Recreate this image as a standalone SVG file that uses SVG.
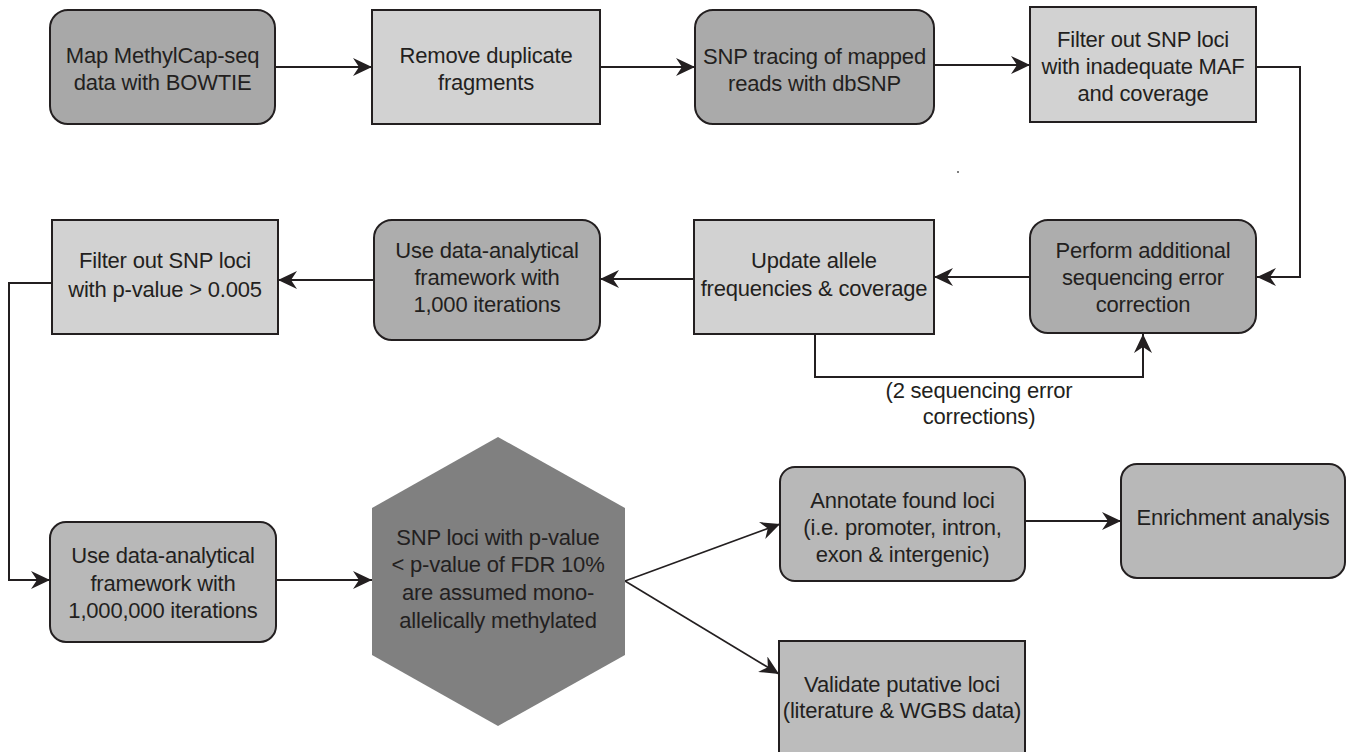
<svg xmlns="http://www.w3.org/2000/svg" width="1347" height="752" viewBox="0 0 1347 752">
<style>
  .box { stroke: #231f20; stroke-width: 2; }
  .lt { fill: #d2d2d2; }
  .md { fill: #b8b8b8; }
  text { font-family: "Liberation Sans", Arial, sans-serif; font-size: 22px; fill: #231f20; text-anchor: middle; letter-spacing: -0.2px; }
  .conn { fill: none; stroke: #231f20; stroke-width: 2; }
  .thin { fill: none; stroke: #231f20; stroke-width: 1.6; }
</style>
<defs>
  <marker id="ah" markerUnits="userSpaceOnUse" markerWidth="20" markerHeight="18" viewBox="0 0 20 18" refX="19" refY="9" orient="auto">
    <path d="M0,0 L19,9 L0,18 L6,9 Z" fill="#231f20"/>
  </marker>
</defs>
<rect width="1347" height="752" fill="#ffffff"/>

<g id="connectors">
  <line class="conn" x1="276" y1="67" x2="372" y2="67" marker-end="url(#ah)"/>
  <line class="conn" x1="600" y1="67" x2="695" y2="67" marker-end="url(#ah)"/>
  <line class="conn" x1="934" y1="65" x2="1030" y2="65" marker-end="url(#ah)"/>
  <polyline class="conn" points="1256,67 1300,67 1300,277 1257,277" marker-end="url(#ah)"/>
  <line class="conn" x1="1030" y1="277" x2="934" y2="277" marker-end="url(#ah)"/>
  <polyline class="conn" points="815,334 815,377 1143,377 1143,334" marker-end="url(#ah)"/>
  <line class="conn" x1="694" y1="279" x2="600" y2="279" marker-end="url(#ah)"/>
  <line class="conn" x1="374" y1="280" x2="278" y2="280" marker-end="url(#ah)"/>
  <polyline class="conn" points="52,283 9,283 9,580 50,580" marker-end="url(#ah)"/>
  <line class="conn" x1="276" y1="580" x2="372" y2="580" marker-end="url(#ah)"/>
  <line class="thin" x1="625" y1="581" x2="780" y2="524" marker-end="url(#ah)"/>
  <line class="thin" x1="625" y1="581" x2="779" y2="674" marker-end="url(#ah)"/>
  <line class="conn" x1="1025" y1="521" x2="1121" y2="521" marker-end="url(#ah)"/>
  <text x="979" y="398">(2 sequencing error</text>
  <text x="979" y="424">corrections)</text>
</g>

<g id="n1">
  <rect class="box" x="50" y="10" width="225" height="114" rx="18" fill="#a8a8a8"/>
  <text x="162.5" y="63">Map MethylCap-seq</text>
  <text x="162.5" y="90">data with BOWTIE</text>
</g>
<g id="n2">
  <rect class="box lt" x="372" y="10" width="228" height="114"/>
  <text x="486" y="63">Remove duplicate</text>
  <text x="486" y="90">fragments</text>
</g>
<g id="n3">
  <rect class="box" x="695" y="10" width="239" height="114" rx="18" fill="#aaaaaa"/>
  <text x="814.5" y="64">SNP tracing of mapped</text>
  <text x="814.5" y="91">reads with dbSNP</text>
</g>
<g id="n4">
  <rect class="box lt" x="1030" y="7" width="226" height="115"/>
  <text x="1143" y="47">Filter out SNP loci</text>
  <text x="1143" y="74">with inadequate MAF</text>
  <text x="1143" y="101">and coverage</text>
</g>
<g id="n5">
  <rect class="box" x="1030" y="220" width="226" height="113" rx="18" fill="#adadad"/>
  <text x="1143" y="258">Perform additional</text>
  <text x="1143" y="285">sequencing error</text>
  <text x="1143" y="312">correction</text>
</g>
<g id="n6">
  <rect class="box lt" x="694" y="220" width="240" height="114"/>
  <text x="814" y="268">Update allele</text>
  <text x="814" y="296">frequencies &amp; coverage</text>
</g>
<g id="n7">
  <rect class="box" x="374" y="220" width="226" height="120" rx="18" fill="#adadad"/>
  <text x="487" y="258">Use data-analytical</text>
  <text x="487" y="285">framework with</text>
  <text x="487" y="312">1,000 iterations</text>
</g>
<g id="n8">
  <rect class="box lt" x="52" y="220" width="226" height="114"/>
  <text x="165" y="268">Filter out SNP loci</text>
  <text x="165" y="297">with p-value &gt; 0.005</text>
</g>
<g id="n9">
  <rect class="box md" x="50" y="522" width="226" height="120" rx="16"/>
  <text x="163" y="563">Use data-analytical</text>
  <text x="163" y="591">framework with</text>
  <text x="163" y="618">1,000,000 iterations</text>
</g>
<g id="n10">
  <polygon points="498,437 625,508 625,655 498,726 372,655 372,508" fill="#808080"/>
  <text x="498" y="545">SNP loci with p-value</text>
  <text x="498" y="572">&lt; p-value of FDR 10%</text>
  <text x="498" y="600">are assumed mono-</text>
  <text x="498" y="628">allelically methylated</text>
</g>
<g id="n11">
  <rect class="box md" x="780" y="467" width="245" height="114" rx="15"/>
  <text x="902.5" y="508">Annotate found loci</text>
  <text x="902.5" y="535">(i.e. promoter, intron,</text>
  <text x="902.5" y="562">exon &amp; intergenic)</text>
</g>
<g id="n12">
  <rect class="box md" x="1121" y="464" width="224" height="114" rx="16"/>
  <text x="1233" y="525">Enrichment analysis</text>
</g>
<g id="n13">
  <rect class="box" x="779" y="641" width="246" height="125" fill="#bcbcbc"/>
  <text x="902" y="692">Validate putative loci</text>
  <text x="902" y="718">(literature &amp; WGBS data)</text>
</g>
<circle cx="958" cy="172" r="1" fill="#555555"/>
</svg>
